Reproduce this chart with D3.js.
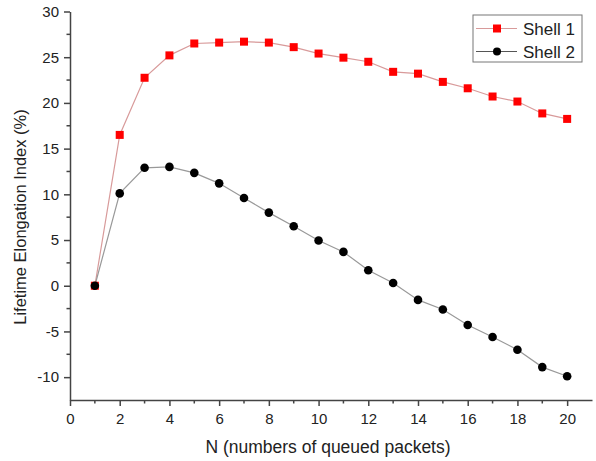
<!DOCTYPE html>
<html>
<head>
<meta charset="utf-8">
<script src="https://cdn.jsdelivr.net/npm/d3@7"></script>
<style>
  body { margin: 0; background: #fff; }
  svg { font-family: "Liberation Sans", Arial, sans-serif; }
</style>
</head>
<body>
<div id="chart"></div>
<script>
const width = 596, height = 461;
const margin = {top: 11.5, right: 4, bottom: 61, left: 70};

const nValues = [1, 2, 3, 4, 5, 6, 7, 8, 9, 10, 11, 12, 13, 14, 15, 16, 17, 18, 19, 20];
const shell1 = [0, 16.5, 22.75, 25.2, 26.5, 26.6, 26.7, 26.6, 26.1, 25.4, 24.95, 24.5, 23.4, 23.2, 22.3, 21.6, 20.7, 20.15, 18.85, 18.25];
const shell2 = [0, 10.1, 12.9, 13.0, 12.35, 11.2, 9.6, 8.0, 6.5, 4.95, 3.7, 1.7, 0.3, -1.55, -2.6, -4.3, -5.6, -7.0, -8.9, -9.9];
const xTicks = [0, 2, 4, 6, 8, 10, 12, 14, 16, 18, 20];
const yTicks = [-10, -5, 0, 5, 10, 15, 20, 25, 30];
const seriesNames = ["Shell 1", "Shell 2"];

const x = d3.scaleLinear().domain([0, 21]).range([margin.left, width - margin.right]);
const y = d3.scaleLinear().domain([-12.5, 30]).range([height - margin.bottom, margin.top]);

const svg = d3.select("#chart").append("svg")
    .attr("width", width)
    .attr("height", height);

const axisColor = "#444";
const plain = d => String(d);

// x axis
const gx = svg.append("g")
    .attr("transform", `translate(0,${y(-12.5)})`)
    .call(d3.axisBottom(x).tickValues(xTicks).tickFormat(plain).tickSize(6).tickSizeOuter(0).tickPadding(7));
gx.selectAll(".tick line").attr("stroke", axisColor).attr("stroke-width", 1.5);
gx.select(".domain").attr("stroke", axisColor).attr("stroke-width", 1.5);
gx.selectAll("text").attr("font-size", 15).attr("fill", "#222");
svg.append("g")
    .attr("transform", `translate(0,${y(-12.5)})`)
    .selectAll("line")
    .data(d3.range(1, 21, 2))
    .join("line")
    .attr("x1", d => x(d)).attr("x2", d => x(d))
    .attr("y1", 0).attr("y2", 3.5)
    .attr("stroke", axisColor).attr("stroke-width", 1.5);

// y axis
const gy = svg.append("g")
    .attr("transform", `translate(${margin.left},0)`)
    .call(d3.axisLeft(y).tickValues(yTicks).tickFormat(plain).tickSize(6).tickSizeOuter(0).tickPadding(5));
gy.selectAll(".tick line").attr("stroke", axisColor).attr("stroke-width", 1.5);
gy.select(".domain").attr("stroke", axisColor).attr("stroke-width", 1.5);
gy.selectAll("text").attr("font-size", 15).attr("fill", "#222");
svg.append("g")
    .attr("transform", `translate(${margin.left},0)`)
    .selectAll("line")
    .data(d3.range(-7.5, 30, 5))
    .join("line")
    .attr("x1", -3.5).attr("x2", 0)
    .attr("y1", d => y(d)).attr("y2", d => y(d))
    .attr("stroke", axisColor).attr("stroke-width", 1.5);

// axis titles
svg.append("text")
    .attr("x", 328)
    .attr("y", 453)
    .attr("text-anchor", "middle")
    .attr("font-size", 17.5)
    .attr("fill", "#222")
    .text("N (numbers of queued packets)");
svg.append("text")
    .attr("transform", "translate(26,217) rotate(-90)")
    .attr("text-anchor", "middle")
    .attr("font-size", 16.5)
    .attr("fill", "#222")
    .text("Lifetime Elongation Index (%)");

// lines
const line = d3.line().x((d, i) => x(nValues[i])).y(d => y(d));
svg.append("path").datum(shell1)
    .attr("fill", "none").attr("stroke", "#d89a9a").attr("stroke-width", 1.2)
    .attr("d", line);
svg.append("path").datum(shell2)
    .attr("fill", "none").attr("stroke", "#999").attr("stroke-width", 1.2)
    .attr("d", line);

// markers
svg.append("g").selectAll("rect")
    .data(shell1)
    .join("rect")
    .attr("x", (d, i) => x(nValues[i]) - 4)
    .attr("y", d => y(d) - 4)
    .attr("width", 8).attr("height", 8)
    .attr("fill", "#ff0000");
svg.append("g").selectAll("circle")
    .data(shell2)
    .join("circle")
    .attr("cx", (d, i) => x(nValues[i]))
    .attr("cy", d => y(d))
    .attr("r", 4.3)
    .attr("fill", "#000");

// legend
const legend = svg.append("g").attr("transform", "translate(473,15)");
legend.append("rect")
    .attr("width", 109).attr("height", 47)
    .attr("fill", "#fff").attr("stroke", "#777").attr("stroke-width", 1);
const rows = legend.selectAll("g.row")
    .data(seriesNames)
    .join("g")
    .attr("class", "row")
    .attr("transform", (d, i) => `translate(0,${13.5 + i * 23})`);
rows.append("line")
    .attr("x1", 3).attr("x2", 44)
    .attr("stroke", (d, i) => i ? "#555" : "#d89a9a").attr("stroke-width", 1.2);
rows.filter((d, i) => i === 0).append("rect")
    .attr("x", 20).attr("y", -4).attr("width", 8).attr("height", 8).attr("fill", "#ff0000");
rows.filter((d, i) => i === 1).append("circle")
    .attr("cx", 24).attr("r", 4).attr("fill", "#000");
rows.append("text")
    .attr("x", 50).attr("dy", "0.36em")
    .attr("font-size", 17).attr("fill", "#222")
    .text(d => d);
</script>
</body>
</html>
